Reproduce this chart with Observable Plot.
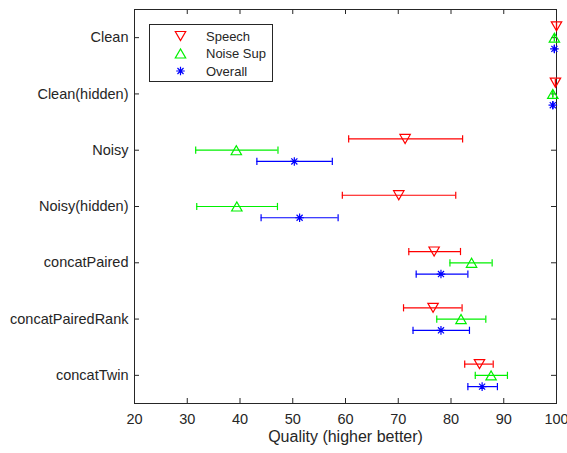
<!DOCTYPE html>
<html>
<head>
<meta charset="utf-8">
<script src="https://cdn.jsdelivr.net/npm/d3@7"></script>
<script src="https://cdn.jsdelivr.net/npm/@observablehq/plot@0.6"></script>
<style>
  html, body { margin: 0; padding: 0; background: #fff; }
  #chart { width: 567px; height: 453px; position: relative; }
</style>
</head>
<body>
<div id="chart"></div>
<script>
const categories = ["Clean", "Clean(hidden)", "Noisy", "Noisy(hidden)", "concatPaired", "concatPairedRank", "concatTwin"];
const seriesNames = ["Speech", "Noise Sup", "Overall"];
const seriesColors = ["#ff0000", "#00f000", "#0000ff"];

const speechMean  = [100.0, 99.8, 71.3, 70.1, 76.8, 76.6, 85.4];
const speechLo    = [100.0, 99.8, 60.6, 59.4, 72.0, 71.0, 82.6];
const speechHi    = [100.0, 99.8, 82.2, 80.9, 81.8, 82.1, 88.0];

const noiseMean   = [99.6, 99.3, 39.3, 39.4, 83.9, 81.9, 87.6];
const noiseLo     = [99.6, 99.3, 31.6, 31.8, 79.8, 77.3, 84.6];
const noiseHi     = [99.6, 99.3, 47.2, 47.1, 87.8, 86.6, 90.7];

const overallMean = [99.6, 99.3, 50.3, 51.3, 78.1, 78.1, 85.9];
const overallLo   = [99.6, 99.3, 43.2, 44.0, 73.4, 72.8, 83.2];
const overallHi   = [99.6, 99.3, 57.5, 58.6, 83.2, 83.5, 88.8];

const xTicks = [20, 30, 40, 50, 60, 70, 80, 90, 100];
const yTicks = categories.map((c, i) => i + 1);

// custom marker shapes
const rOf = size => Math.sqrt(size / Math.PI);
const triDown = { draw(ctx, size) { const r = rOf(size), h = r * 0.87; ctx.moveTo(-r, -h); ctx.lineTo(r, -h); ctx.lineTo(0, h); ctx.closePath(); } };
const triUp = { draw(ctx, size) { const r = rOf(size), h = r * 0.87; ctx.moveTo(-r, h); ctx.lineTo(r, h); ctx.lineTo(0, -h); ctx.closePath(); } };
const star = { draw(ctx, size) { const r = rOf(size), d = r * 0.7071;
  ctx.moveTo(-r, 0); ctx.lineTo(r, 0); ctx.moveTo(0, -r); ctx.lineTo(0, r);
  ctx.moveTo(-d, -d); ctx.lineTo(d, d); ctx.moveTo(-d, d); ctx.lineTo(d, -d); } };
const cap = { draw(ctx, size) { const r = rOf(size); ctx.moveTo(0, -r); ctx.lineTo(0, r); } };
const symbols = [triDown, triUp, star];
const symbolR = [5.2, 5.2, 4.3];
const offsets = [-0.2, 0, 0.2];

const series = [
  [speechMean, speechLo, speechHi],
  [noiseMean, noiseLo, noiseHi],
  [overallMean, overallLo, overallHi]
];
const rows = [];
series.forEach(([m, lo, hi], s) => {
  categories.forEach((c, i) => {
    rows.push({ s, cat: c, y: i + 1 + offsets[s], mean: m[i], lo: lo[i], hi: hi[i] });
  });
});

const W = 567, H = 453, mL = 134, mR = 11, mT = 9, mB = 50;
const plotW = W - mL - mR, plotH = H - mT - mB;
const ink = "#262626";
const font = "'Liberation Sans', Arial, Helvetica, sans-serif";

const marks = [
  Plot.frame({ stroke: ink, strokeWidth: 1 }),
  Plot.ruleX(xTicks, { x: d => d, insetTop: plotH - 5, stroke: ink }),
  Plot.ruleX(xTicks, { x: d => d, insetBottom: plotH - 5, stroke: ink }),
  Plot.ruleY(yTicks, { y: d => d, insetRight: plotW - 5, stroke: ink }),
  Plot.ruleY(yTicks, { y: d => d, insetLeft: plotW - 5, stroke: ink }),
  Plot.axisX({ ticks: xTicks, tickSize: 0, tickPadding: 10, fontSize: 14.5, fill: ink, label: null }),
  Plot.axisY({ ticks: yTicks, tickSize: 0, tickPadding: 6, fontSize: 14.5, fill: ink, label: null,
               tickFormat: i => categories[i - 1] }),
  Plot.text(["Quality (higher better)"], { text: d => d, frameAnchor: "bottom", dy: 38, fontSize: 16, fill: ink })
];
seriesNames.forEach((name, s) => {
  const d = rows.filter(r => r.s === s);
  const col = seriesColors[s];
  marks.push(
    Plot.ruleY(d, { y: "y", x1: "lo", x2: "hi", stroke: col, strokeWidth: 1.2 }),
    Plot.dot(d, { x: "lo", y: "y", symbol: cap, r: 3.6, stroke: col, strokeWidth: 1.2 }),
    Plot.dot(d, { x: "hi", y: "y", symbol: cap, r: 3.6, stroke: col, strokeWidth: 1.2 }),
    Plot.dot(d, { x: "mean", y: "y", symbol: symbols[s], r: symbolR[s], stroke: col, fill: "none", strokeWidth: 1.2 })
  );
});

const chart = Plot.plot({
  width: W, height: H,
  marginLeft: mL, marginRight: mR, marginTop: mT, marginBottom: mB,
  style: { fontFamily: font, background: "#fff", color: ink },
  x: { domain: [20, 100] },
  y: { domain: [7.5, 0.5] },
  marks
});
document.getElementById("chart").appendChild(chart);

// legend
const svg = d3.select(chart);
const lg = svg.append("g").attr("transform", "translate(149.5,24.5)");
lg.append("rect").attr("width", 123).attr("height", 57).attr("fill", "#fff").attr("stroke", ink).attr("stroke-width", 1);
seriesNames.forEach((name, s) => {
  const yy = 11.5 + s * 17.5;
  lg.append("path")
    .attr("transform", `translate(31,${yy})`)
    .attr("d", d3.symbol(symbols[s], symbolR[s] * symbolR[s] * Math.PI)())
    .attr("fill", "none").attr("stroke", seriesColors[s]).attr("stroke-width", 1.2);
  lg.append("text").attr("x", 56.5).attr("y", yy).attr("dy", "0.35em")
    .attr("text-anchor", "start")
    .attr("font-size", 13).attr("font-family", font).attr("fill", ink).text(name);
});
</script>
</body>
</html>
